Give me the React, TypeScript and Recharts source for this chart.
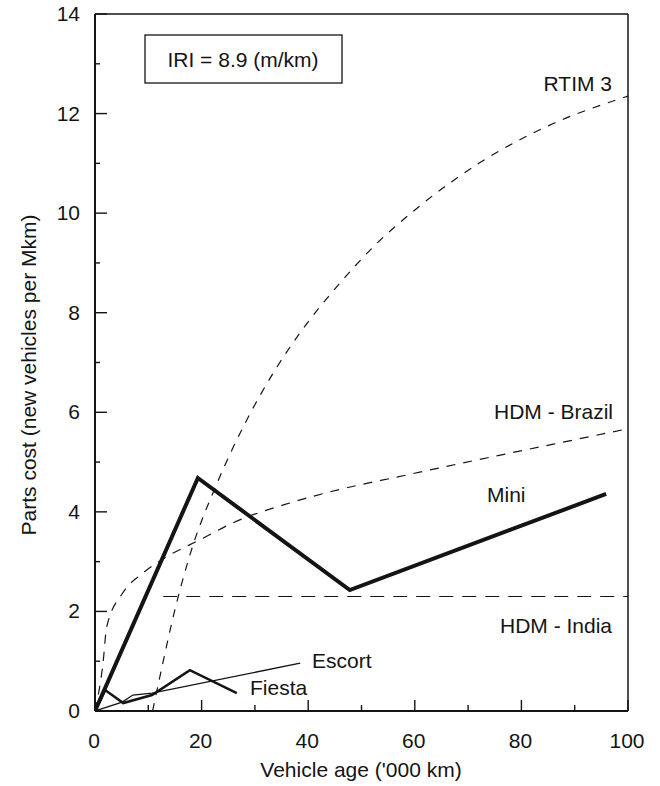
import React from 'react';
import { LineChart, Line, XAxis, YAxis, ReferenceLine } from 'recharts';

// vehicle age ('000 km) / parts cost pairs
const rtimAge = [10.8, 12.7, 14.8, 18, 23, 28.5, 33.5, 38.5, 46, 52, 61, 72, 86, 100];
const rtimCost = [0, 0.95, 1.95, 3.2, 4.6, 5.85, 6.8, 7.6, 8.6, 9.3, 10.15, 11.0, 11.8, 12.35];

const brazilAge = [0, 1.5, 2.2, 5.2, 9, 13.5, 19.7, 25.9, 36.6, 44, 58, 72, 86, 100];
const brazilCost = [0, 0.96, 1.69, 2.37, 2.77, 3.1, 3.44, 3.78, 4.18, 4.4, 4.73, 5.05, 5.36, 5.67];

const indiaAge = [12.8, 100];
const indiaCost = [2.3, 2.3];

const miniAge = [0, 19.3, 47.8, 95.9];
const miniCost = [0, 4.68, 2.43, 4.36];

const escortAge = [0, 5.1, 7.1, 10.7, 38.5];
const escortCost = [0, 0.18, 0.32, 0.36, 0.96];

const fiestaAge = [0, 1.9, 5.3, 10.7, 17.8, 26.6];
const fiestaCost = [0, 0.42, 0.16, 0.32, 0.82, 0.36];

const xTicks = [0, 10, 20, 30, 40, 50, 60, 70, 80, 90, 100];
const yTicks = [0, 1, 2, 3, 4, 5, 6, 7, 8, 9, 10, 11, 12, 13, 14];

const FONT = '"Liberation Sans", Arial, Helvetica, sans-serif';
const INK = '#141414';

const toPoints = (xs: number[], ys: number[]) => xs.map((x, i) => ({ age: x, cost: ys[i] }));

const XTick = (props: any) => {
    const { x, y, payload } = props;
    const major = payload.value % 20 === 0;
    return (
        <g>
            <line x1={x} x2={x} y1={y} y2={y - (major ? 11 : 6)} stroke={INK} strokeWidth={1.4} />
            {major && (
                <text x={x - 1} y={y + 37} textAnchor="middle" fontSize={21} fontFamily={FONT} fill={INK}>
                    {payload.value}
                </text>
            )}
        </g>
    );
};

const YTick = (props: any) => {
    const { x, y, payload } = props;
    const major = payload.value % 2 === 0;
    return (
        <g>
            <line x1={x} x2={x + (major ? 12 : 5)} y1={y} y2={y} stroke={INK} strokeWidth={1.4} />
            {major && (
                <text x={x - 15} y={y + 7} textAnchor="end" fontSize={21} fontFamily={FONT} fill={INK}>
                    {payload.value}
                </text>
            )}
        </g>
    );
};

const labelStyle = { fontSize: 21, fontFamily: FONT, fill: INK };

export default function App() {
    return (
        <div style={{ position: 'fixed', left: 0, top: 0, width: 660, height: 786, background: '#fff' }}>
            <LineChart width={660} height={786} margin={{ top: 14, right: 32, bottom: 0, left: 0 }}>
                <XAxis
                    dataKey="age"
                    type="number"
                    domain={[0, 100]}
                    ticks={xTicks}
                    interval={0}
                    height={75}
                    tickSize={0}
                    tickMargin={0}
                    tick={<XTick />}
                    tickLine={false}
                    axisLine={{ stroke: INK, strokeWidth: 2 }}
                    allowDataOverflow
                />
                <YAxis
                    type="number"
                    domain={[0, 14]}
                    ticks={yTicks}
                    interval={0}
                    width={95}
                    tickSize={0}
                    tickMargin={0}
                    tick={<YTick />}
                    tickLine={false}
                    axisLine={{ stroke: INK, strokeWidth: 2 }}
                    allowDataOverflow
                />
                <ReferenceLine y={14} stroke={INK} strokeWidth={1.5} />
                <ReferenceLine x={100} stroke={INK} strokeWidth={1.5} />

                <Line data={toPoints(rtimAge, rtimCost)} dataKey="cost" type="monotone" stroke={INK}
                    strokeWidth={1.2} strokeDasharray="8 8" dot={false} isAnimationActive={false} />
                <Line data={toPoints(brazilAge, brazilCost)} dataKey="cost" type="monotone" stroke={INK}
                    strokeWidth={1.2} strokeDasharray="9 8" dot={false} isAnimationActive={false} />
                <Line data={toPoints(indiaAge, indiaCost)} dataKey="cost" type="linear" stroke={INK}
                    strokeWidth={1.2} strokeDasharray="14 9" dot={false} isAnimationActive={false} />
                <Line data={toPoints(escortAge, escortCost)} dataKey="cost" type="linear" stroke={INK}
                    strokeWidth={1.3} dot={false} isAnimationActive={false} />
                <Line data={toPoints(fiestaAge, fiestaCost)} dataKey="cost" type="linear" stroke={INK}
                    strokeWidth={2.5} dot={false} isAnimationActive={false} />
                <Line data={toPoints(miniAge, miniCost)} dataKey="cost" type="linear" stroke={INK}
                    strokeWidth={4} dot={false} isAnimationActive={false} />
            </LineChart>

            <svg width={660} height={786} style={{ position: 'absolute', left: 0, top: 0, pointerEvents: 'none' }}>
                <rect x={145} y={35} width={197} height={48} fill="#fff" stroke={INK} strokeWidth={1.3} />
                <text x={243} y={67} textAnchor="middle" {...labelStyle}>IRI = 8.9 (m/km)</text>
                <text x={612} y={91} textAnchor="end" {...labelStyle}>RTIM 3</text>
                <text x={613} y={419} textAnchor="end" {...labelStyle}>HDM - Brazil</text>
                <text x={487} y={502} {...labelStyle}>Mini</text>
                <text x={612} y={633} textAnchor="end" {...labelStyle}>HDM - India</text>
                <text x={312} y={668} {...labelStyle}>Escort</text>
                <text x={250} y={695} {...labelStyle}>Fiesta</text>
                <text x={361} y={777} textAnchor="middle" {...labelStyle}>Vehicle age ('000 km)</text>
                <text x={36} y={375} textAnchor="middle" transform="rotate(-90 36 375)" {...labelStyle}>
                    Parts cost (new vehicles per Mkm)
                </text>
            </svg>
        </div>
    );
}
